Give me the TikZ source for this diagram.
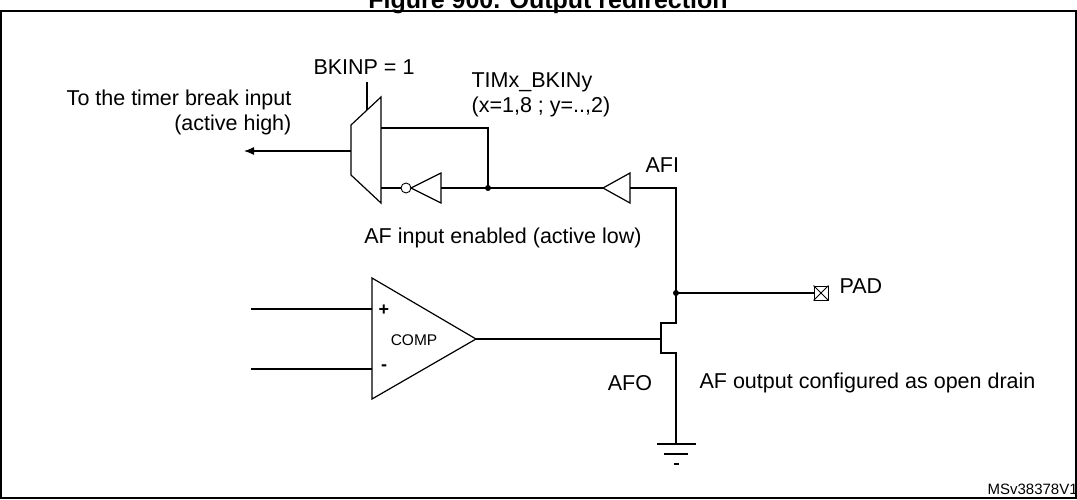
\documentclass[tikz,border=0pt]{standalone}
\usepackage{fontspec}
\setmainfont{Liberation Sans}
\usetikzlibrary{arrows.meta}
\begin{document}
\begin{tikzpicture}[x=1pt,y=-1pt,line width=1.2pt,
  lbl/.style={inner sep=0pt,font=\fontsize{21.5}{25}\selectfont},
  dot/.style={circle,fill,inner sep=0pt,minimum size=6pt}]
\useasboundingbox (0,0) rectangle (1077,499);
\node[lbl,anchor=base,font=\fontsize{25}{28}\bfseries\selectfont] (title) at (548,8) {Figure 900. Output redirection};
\draw[line width=1.2pt] (1,11) rectangle (1076,498);
% mux
\draw (351,125) -- (381,97) -- (381,203) -- (351,175) -- cycle;
\coordinate (muxout) at (351,151);
\coordinate (muxsel) at (367,110);
\coordinate (muxin1) at (381,128);
\coordinate (muxin2) at (381,188);
\node[lbl] (bkinp) at (364,67) {BKINP = 1};
\draw (367,82) coordinate (selt) -- (muxsel);
\coordinate (arrend) at (244,151);
\draw[-{Latex[length=10pt,width=8pt]}] (muxout) -- (arrend);
\node[lbl,anchor=east,align=right] (totimer) at (292,112) {To the timer break input\\(active high)};
% inverter
\node[circle,draw,inner sep=0pt,minimum size=10pt,line width=0.9pt] (bub) at (406,188) {};
\draw (411,188) -- (441,173) -- (441,203) -- cycle;
\coordinate (invin) at (441,188);
\node[dot] (j1) at (488,188) {};
\draw (muxin2) -- (bub.west);
\draw (invin) -- (j1.center) -- (603,188);
\draw (muxin1) -- (488,128) -- (j1.center);
% AFI buffer
\draw (603,188) -- (630,173) -- (630,203) -- cycle;
\node[dot] (j2) at (676,293) {};
\draw (630,188) -- (676,188) -- (j2.center);
\node[lbl,anchor=west] (afi) at (645,165) {AFI};
\node[lbl,anchor=west,align=left] (tim) at (471,95) {TIMx\_BKINy\\(x=1,8 ; y=..,2)};
\node[lbl] (afin) at (503,238) {AF input enabled (active low)};
% PAD
\node[draw,minimum size=14pt,inner sep=0pt,line width=0.9pt] (pad) at (821,293) {};
\draw[line width=0.9pt] (pad.north west) -- (pad.south east) (pad.north east) -- (pad.south west);
\draw (j2.center) -- (pad.west);
\node[lbl,anchor=west] (padl) at (839,286) {PAD};
% transistor
\coordinate (gnd) at (676,444);
\draw (j2.center) -- (676,323) -- (661,323) -- (661,353) -- (676,353) -- (gnd);
\draw (657,444) -- (696,444) (664,454) -- (688,454) (674,464) -- (679,464);
\node[lbl] (afo) at (630,383) {AFO};
\node[lbl,anchor=west] (afoc) at (699,383) {AF output configured as open drain};
% comparator
\draw (372,278) -- (476,339) -- (372,399) -- cycle;
\coordinate (compout) at (476,339);
\draw (compout) -- (661,339);
\draw (251,309) -- (372,309) (251,369) -- (372,369);
\node[lbl,font=\bfseries\fontsize{18}{20}\selectfont] (plus) at (384,310) {+};
\node[lbl,font=\bfseries\fontsize{18}{20}\selectfont] (minus) at (384,368) {-};
\node[lbl,font=\fontsize{15.5}{18}\selectfont] (comp) at (414,340) {COMP};
\node[lbl,font=\fontsize{15}{18}\selectfont,anchor=west] (ms) at (987,489) {MSv38378V1};
\end{tikzpicture}
\end{document}
